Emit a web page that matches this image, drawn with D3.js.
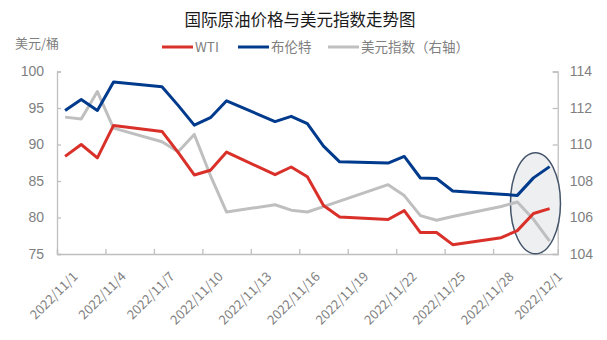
<!DOCTYPE html>
<html>
<head>
<meta charset="utf-8">
<script src="https://cdn.jsdelivr.net/npm/d3@7"></script>
<style>
  html, body { margin: 0; padding: 0; background: #fff; }
  svg { display: block; font-family: "Noto Sans CJK SC", "Noto Sans", sans-serif; }
</style>
</head>
<body>
<svg id="chart" width="607" height="340"></svg>
<script>
// Trading dates (Nov 2022 – Dec 1)
const dates = ["2022-11-01","2022-11-02","2022-11-03","2022-11-04","2022-11-07","2022-11-08",
  "2022-11-09","2022-11-10","2022-11-11","2022-11-14","2022-11-15","2022-11-16","2022-11-17",
  "2022-11-18","2022-11-21","2022-11-22","2022-11-23","2022-11-24","2022-11-25","2022-11-28",
  "2022-11-29","2022-11-30","2022-12-01"];
// WTI crude, USD/bbl
const wti = [88.37, 90.00, 88.17, 92.61, 91.79, 88.91, 85.83, 86.47, 88.96, 85.87, 86.92, 85.59,
  81.64, 80.08, 79.73, 80.95, 77.94, 77.94, 76.28, 77.24, 78.20, 80.55, 81.22];
// Brent crude, USD/bbl
const brent = [94.65, 96.16, 94.67, 98.57, 97.92, 95.36, 92.65, 93.67, 95.99, 93.14, 93.86, 92.86,
  89.78, 87.62, 87.45, 88.36, 85.41, 85.34, 83.63, 83.19, 83.03, 85.43, 86.97];
// US dollar index (right axis)
const dxy = [111.5, 111.4, 112.9, 110.9, 110.15, 109.6, 110.55, 108.3, 106.3, 106.7, 106.4, 106.3,
  106.6, 106.9, 107.8, 107.2, 106.1, 105.85, 106.05, 106.6, 106.85, 105.9, 104.7];

const leftTicks = [75, 80, 85, 90, 95, 100];
const rightTicks = [104, 106, 108, 110, 112, 114];
const tickDates = ["2022-11-01","2022-11-04","2022-11-07","2022-11-10","2022-11-13","2022-11-16",
  "2022-11-19","2022-11-22","2022-11-25","2022-11-28","2022-12-01"];

const titleText = "国际原油价格与美元指数走势图";
const unitText = "美元/桶";
const seriesNames = ["WTI", "布伦特", "美元指数（右轴）"];
const colors = ["#D9302A", "#003A8C", "#BFBFBF"];

const parse = d3.utcParse("%Y-%m-%d");
const fmt = d3.utcFormat("%Y/%-m/%-d");
const halfDay = 12 * 3600 * 1000;

const svg = d3.select("#chart");
const plot = { left: 57, right: 557.7, top: 71.5, bottom: 254 };

const x = d3.scaleUtc()
  .domain([parse("2022-11-01"), parse("2022-12-02")])
  .range([plot.left, plot.right]);
const yL = d3.scaleLinear().domain([75, 100]).range([plot.bottom, plot.top]);
const yR = d3.scaleLinear().domain([104, 114]).range([plot.bottom, plot.top]);

const axisColor = "#BFBFBF";
const textColor = "#7F7F7F";

// Left axis
const gL = svg.append("g").attr("transform", `translate(${plot.left},0)`)
  .call(d3.axisLeft(yL).tickValues(leftTicks).tickSize(-4).tickPadding(13));
// Right axis
const gR = svg.append("g").attr("transform", `translate(${plot.right},0)`)
  .call(d3.axisRight(yR).tickValues(rightTicks).tickSize(-5).tickPadding(12));
// Bottom axis
const gB = svg.append("g").attr("transform", `translate(0,${plot.bottom})`)
  .call(d3.axisBottom(x).tickValues(tickDates.map(parse)).tickSize(-5).tickFormat(""));

[gL, gR, gB].forEach(g => {
  g.selectAll(".domain").attr("stroke", axisColor).attr("stroke-width", 1.3);
  g.selectAll(".tick line").attr("stroke", axisColor).attr("stroke-width", 1.3);
  g.selectAll(".tick text").attr("fill", textColor).style("font-size", "14px");
});

// Rotated date labels centred on each day slot
svg.append("g").selectAll("text")
  .data(tickDates)
  .join("text")
  .attr("transform", d => `translate(${x(new Date(parse(d).getTime() + halfDay)) + 7},${plot.bottom + 17}) rotate(-45)`)
  .attr("text-anchor", "end")
  .attr("dy", "0.7em")
  .attr("fill", textColor)
  .style("font-size", "13px")
  .text(d => fmt(parse(d)));

// Highlight around the last three sessions
svg.append("ellipse")
  .attr("cx", (x(parse("2022-11-29")) + x(parse("2022-12-02"))) / 2 + 2)
  .attr("cy", (yR(106) + yR(108)) / 2 + 4)
  .attr("rx", 25)
  .attr("ry", 50.5)
  .attr("fill", "#EEEFF1")
  .attr("stroke", "#44546A")
  .attr("stroke-width", 1.5);

// Series lines
const pts = vals => dates.map((d, i) => ({ t: new Date(parse(d).getTime() + halfDay), v: vals[i] }));
const lineL = d3.line().x(d => x(d.t)).y(d => yL(d.v));
const lineR = d3.line().x(d => x(d.t)).y(d => yR(d.v));

svg.append("path").datum(pts(dxy)).attr("d", lineR)
  .attr("fill", "none").attr("stroke", colors[2]).attr("stroke-width", 3).attr("stroke-linejoin", "round");
svg.append("path").datum(pts(wti)).attr("d", lineL)
  .attr("fill", "none").attr("stroke", colors[0]).attr("stroke-width", 3).attr("stroke-linejoin", "round");
svg.append("path").datum(pts(brent)).attr("d", lineL)
  .attr("fill", "none").attr("stroke", colors[1]).attr("stroke-width", 3).attr("stroke-linejoin", "round");

// Title
svg.append("text")
  .attr("x", 300).attr("y", 26)
  .attr("text-anchor", "middle")
  .attr("fill", "#1A1A1A")
  .style("font-size", "16.5px")
  .text(titleText);

// Unit label
svg.append("text")
  .attr("x", 15).attr("y", 48)
  .attr("fill", textColor)
  .style("font-size", "13px")
  .text(unitText);

// Legend
const legendItems = [
  { name: seriesNames[0], color: colors[0], x: 162 },
  { name: seriesNames[1], color: colors[1], x: 238 },
  { name: seriesNames[2], color: colors[2], x: 328 }
];
const lg = svg.append("g").selectAll("g").data(legendItems).join("g")
  .attr("transform", d => `translate(${d.x},47)`);
lg.append("line").attr("x1", 0).attr("x2", 31).attr("y1", 0).attr("y2", 0)
  .attr("stroke", d => d.color).attr("stroke-width", 3);
lg.append("text").attr("x", 33).attr("y", 0).attr("dy", "0.35em")
  .attr("fill", textColor).style("font-size", "13.5px")
  .text(d => d.name);
</script>
</body>
</html>
